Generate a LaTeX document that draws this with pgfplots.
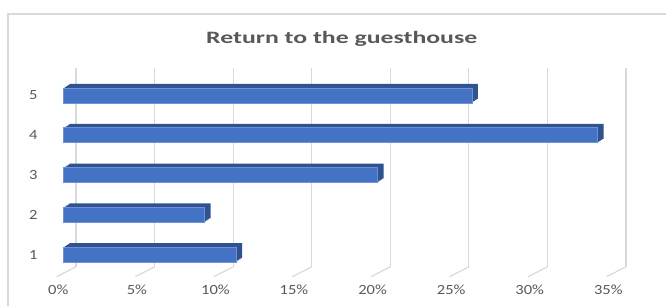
\documentclass[border=0pt]{standalone}
\usepackage{pgfplots}
\pgfplotsset{compat=1.18}
\usepackage{fontspec}
\setmainfont{Carlito}
\newfontfamily\tickfont{Carlito}[FakeStretch=1.18]
\newfontfamily\titlefont{Carlito}[FakeStretch=1.48]
\definecolor{barfront}{HTML}{4472C4}
\definecolor{barside}{HTML}{2F5291}
\definecolor{baredge}{HTML}{6E91D0}
\definecolor{gridgray}{HTML}{D9D9D9}
\definecolor{txt}{HTML}{595959}
\begin{document}
\begin{tikzpicture}
\useasboundingbox (0,0) rectangle (666pt,305pt);
\draw[gridgray, line width=1.2pt] (8pt,-5pt) -- (8pt,291pt) -- (672pt,291pt);
\node[anchor=base, text=txt, inner sep=0pt] at (341.7pt,261.7pt)
  {\titlefont\bfseries\fontsize{17.4}{20}\selectfont Return to the guesthouse};
\begin{axis}[
  at={(63.3pt,30.4pt)}, anchor=south west,
  scale only axis, width=550pt, height=199pt,
  xmin=0, xmax=35, ymin=0.5, ymax=5.5,
  clip=false,
  axis line style={draw=none},
  tick style={draw=none},
  xtick={0,5,10,15,20,25,30,35},
  xticklabels={0\%,5\%,10\%,15\%,20\%,25\%,30\%,35\%},
  ytick={1,2,3,4,5},
  yticklabels={1,2,3,4,5},
  xticklabel style={font=\tickfont\fontsize{14}{16}\selectfont, text=txt, xshift=-5pt, yshift=-7pt},
  yticklabel style={font=\tickfont\fontsize{14}{16}\selectfont, text=txt, anchor=east, xshift=-18pt},
  xmajorgrids,
  grid style={draw=gridgray, line width=1.2pt, xshift=12.7pt, yshift=7.8pt},
  xbar, bar width=15pt, bar shift=0pt,
]
\pgfplotsinvokeforeach{0,5,10,15,20,25,30,35}{
  \draw[gridgray, line width=1.2pt] ([shift={(-6.6pt,-2.1pt)}]axis cs:#1,0.5) -- ([shift={(12.7pt,7.8pt)}]axis cs:#1,0.5);
}
\addplot[fill=barside, draw=none, bar shift=0pt, xshift=6pt, yshift=4pt] coordinates {(11,1) (9,2) (20,3) (34,4) (26,5)};
\addplot[fill=barside, draw=none, bar shift=0pt, xshift=4.5pt, yshift=3pt] coordinates {(11,1) (9,2) (20,3) (34,4) (26,5)};
\addplot[fill=barside, draw=none, bar shift=0pt, xshift=3pt, yshift=2pt] coordinates {(11,1) (9,2) (20,3) (34,4) (26,5)};
\addplot[fill=barside, draw=none, bar shift=0pt, xshift=1.5pt, yshift=1pt] coordinates {(11,1) (9,2) (20,3) (34,4) (26,5)};
\addplot[fill=barfront, draw=baredge, line width=0.6pt, bar shift=0pt] coordinates {(11,1) (9,2) (20,3) (34,4) (26,5)};
\end{axis}
\end{tikzpicture}
\end{document}
